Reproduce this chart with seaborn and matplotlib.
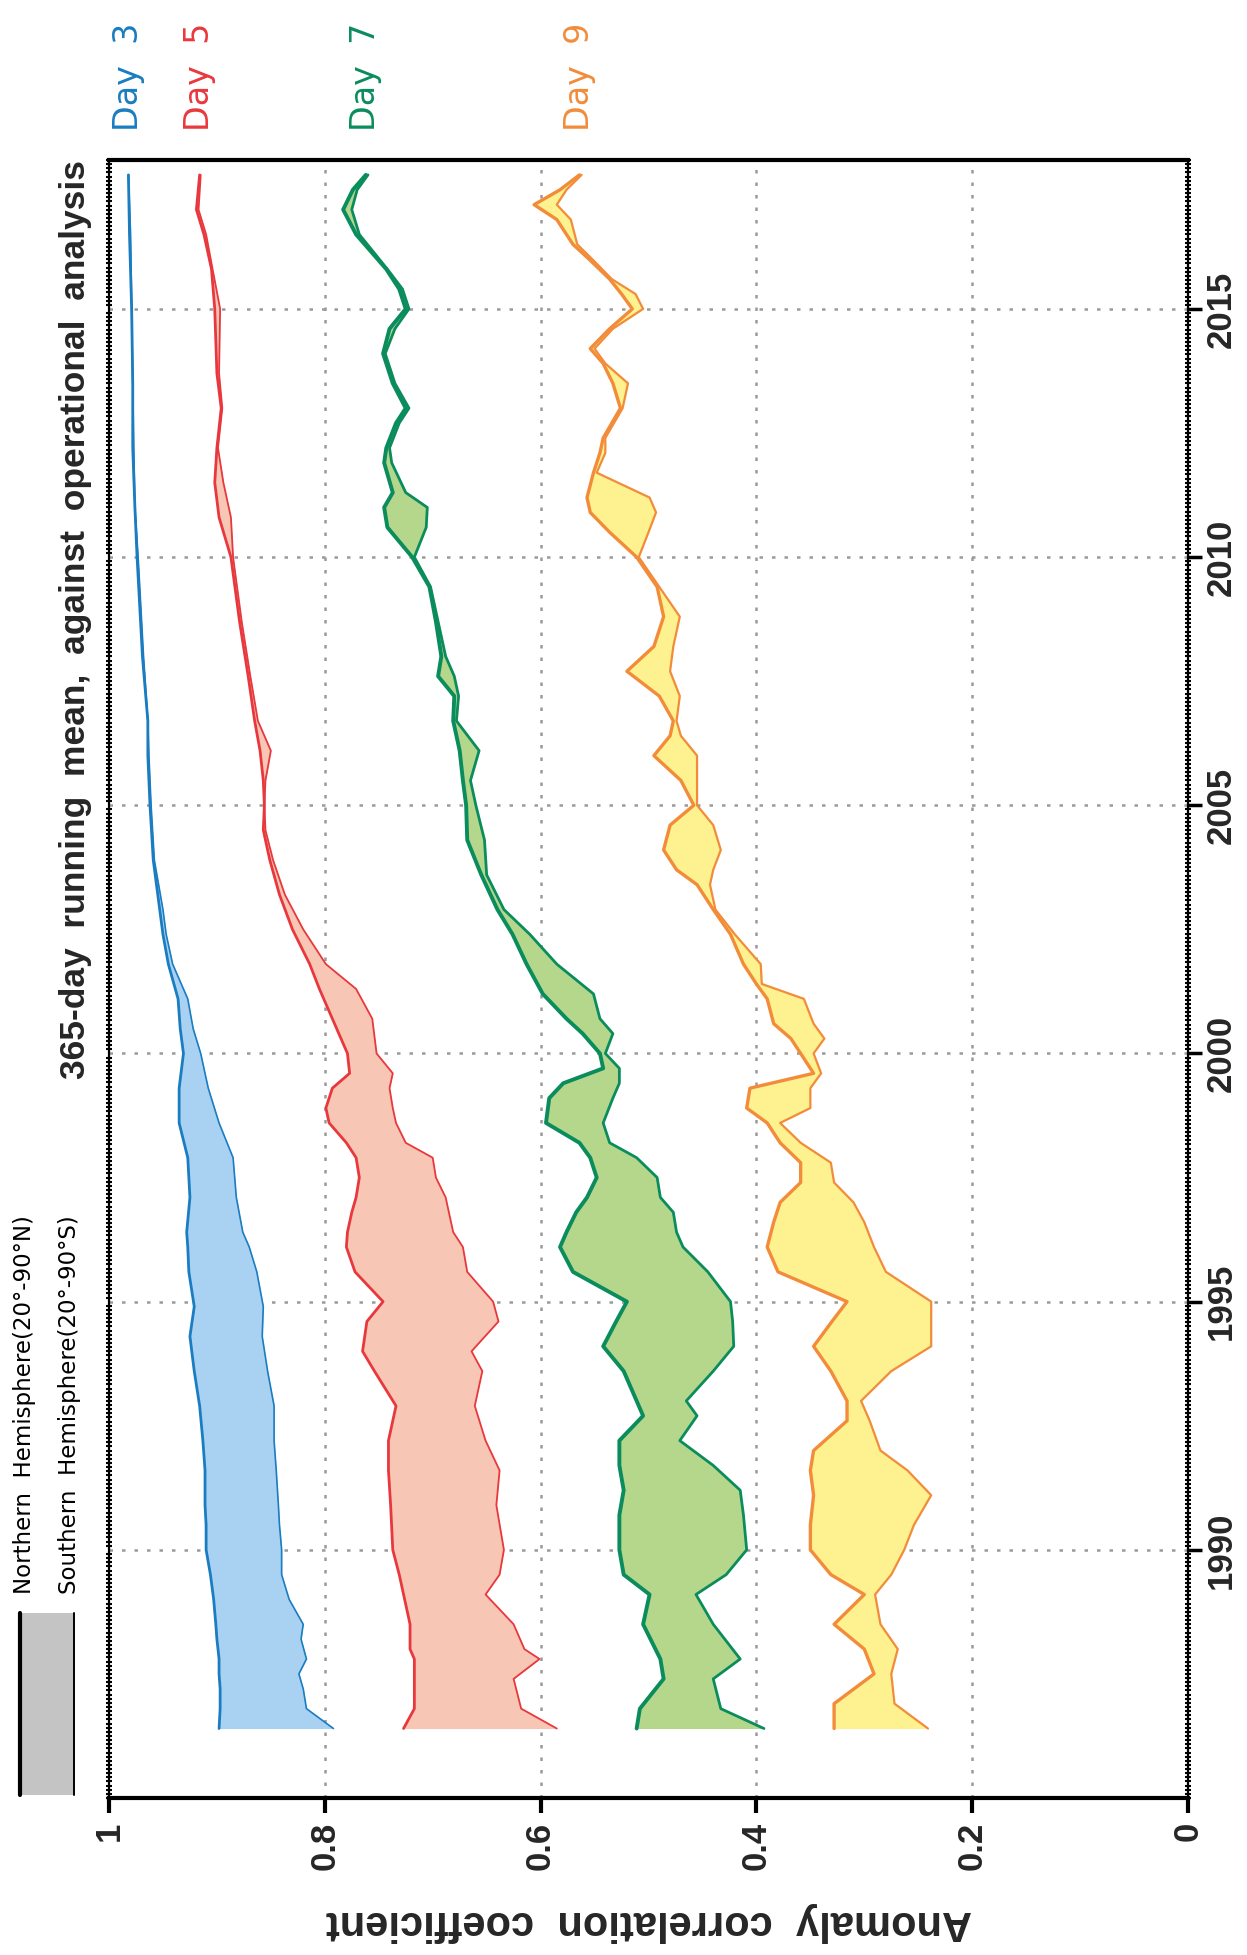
import numpy as np
import pandas as pd
import matplotlib
matplotlib.use("Agg")
import matplotlib.pyplot as plt
import matplotlib.transforms as mtransforms
from matplotlib.lines import Line2D
from matplotlib.patches import Rectangle
import seaborn as sns

# ---------------- data ----------------
D3_YEARS = [1986.4, 1986.8, 1987.2, 1987.5, 1987.8, 1988.2, 1988.5, 1989.0, 1989.5, 1990.0,
            1990.5, 1990.9, 1991.6, 1992.2, 1992.9, 1993.6, 1994.3, 1994.9, 1995.6, 1996.1,
            1996.4, 1997.1, 1997.9, 1998.6, 1999.3, 2000.0, 2000.5, 2001.1, 2001.8, 2002.4,
            2002.9, 2003.9, 2005.0, 2006.0, 2006.7, 2008.0, 2010.0, 2011.0, 2012.2, 2013.5,
            2015.0, 2016.5, 2017.7]
D3_NH = [0.898, 0.897, 0.897, 0.898, 0.898, 0.900, 0.901, 0.903, 0.906, 0.910,
         0.910, 0.911, 0.911, 0.913, 0.916, 0.921, 0.925, 0.921, 0.926, 0.927,
         0.928, 0.925, 0.927, 0.935, 0.935, 0.931, 0.934, 0.936, 0.945, 0.950,
         0.953, 0.959, 0.962, 0.964, 0.964, 0.969, 0.974, 0.976, 0.978, 0.978,
         0.979, 0.981, 0.982]
D3_SH = [0.792, 0.817, 0.820, 0.824, 0.817, 0.822, 0.820, 0.833, 0.840, 0.840,
         0.842, 0.843, 0.845, 0.847, 0.847, 0.853, 0.858, 0.857, 0.863, 0.870,
         0.876, 0.882, 0.885, 0.898, 0.908, 0.915, 0.922, 0.927, 0.941, 0.947,
         0.950, 0.958, 0.961, 0.963, 0.964, 0.968, 0.973, 0.976, 0.977, 0.978,
         0.979, 0.980, 0.982]

D5_YEARS = [1986.4, 1986.8, 1987.4, 1987.8, 1988.0, 1988.5, 1989.1, 1989.5, 1990.0, 1990.9,
            1991.6, 1992.2, 1992.9, 1993.6, 1994.0, 1994.6, 1995.0, 1995.6, 1996.1, 1996.4,
            1996.8, 1997.1, 1997.5, 1997.9, 1998.2, 1998.6, 1998.9, 1999.3, 1999.6, 2000.0,
            2000.7, 2001.3, 2001.8, 2002.5, 2003.2, 2003.9, 2004.5, 2005.0, 2005.5, 2006.1,
            2006.7, 2007.6, 2008.7, 2010.0, 2010.8, 2011.5, 2012.2, 2013.0, 2013.7, 2015.0,
            2015.8, 2016.5, 2017.0, 2017.7]
D5_NH = [0.727, 0.717, 0.717, 0.717, 0.721, 0.721, 0.727, 0.731, 0.737, 0.739,
         0.741, 0.741, 0.734, 0.754, 0.765, 0.761, 0.746, 0.772, 0.780, 0.779,
         0.775, 0.771, 0.768, 0.771, 0.780, 0.796, 0.799, 0.793, 0.777, 0.779,
         0.793, 0.805, 0.814, 0.830, 0.842, 0.851, 0.857, 0.856, 0.857, 0.860,
         0.865, 0.871, 0.879, 0.887, 0.898, 0.902, 0.900, 0.896, 0.900, 0.902,
         0.905, 0.912, 0.919, 0.916]
D5_SH = [0.585, 0.618, 0.625, 0.601, 0.615, 0.625, 0.651, 0.638, 0.634, 0.641,
         0.638, 0.651, 0.661, 0.654, 0.664, 0.639, 0.644, 0.668, 0.672, 0.681,
         0.685, 0.688, 0.697, 0.700, 0.725, 0.734, 0.737, 0.740, 0.737, 0.752,
         0.756, 0.771, 0.799, 0.820, 0.837, 0.848, 0.855, 0.856, 0.855, 0.850,
         0.862, 0.869, 0.877, 0.885, 0.887, 0.894, 0.899, 0.895, 0.898, 0.897,
         0.904, 0.910, 0.917, 0.915]

D7_YEARS = [1986.4, 1986.8, 1987.4, 1987.8, 1988.5, 1989.1, 1989.5, 1990.0, 1990.7, 1991.2,
            1991.7, 1992.2, 1992.7, 1993.0, 1993.6, 1994.1, 1994.6, 1995.0, 1995.6, 1996.1,
            1996.4, 1996.8, 1997.1, 1997.5, 1997.9, 1998.2, 1998.6, 1999.1, 1999.4, 1999.7,
            2000.0, 2000.4, 2000.7, 2001.2, 2001.8, 2002.4, 2002.9, 2003.6, 2004.3, 2005.0,
            2005.5, 2006.1, 2006.7, 2007.2, 2007.6, 2008.0, 2008.7, 2009.4, 2010.0, 2010.6,
            2011.0, 2011.3, 2011.9, 2012.2, 2012.7, 2013.0, 2013.5, 2014.1, 2014.6, 2015.0,
            2015.4, 2015.8, 2016.5, 2017.0, 2017.4, 2017.7]
D7_NH = [0.511, 0.508, 0.486, 0.489, 0.505, 0.499, 0.523, 0.527, 0.527, 0.523,
         0.527, 0.527, 0.505, 0.511, 0.523, 0.542, 0.530, 0.520, 0.570, 0.582,
         0.576, 0.567, 0.557, 0.548, 0.554, 0.564, 0.595, 0.592, 0.579, 0.542,
         0.545, 0.561, 0.576, 0.598, 0.613, 0.626, 0.640, 0.655, 0.668, 0.669,
         0.672, 0.675, 0.681, 0.680, 0.695, 0.692, 0.697, 0.703, 0.719, 0.742,
         0.745, 0.737, 0.745, 0.743, 0.734, 0.725, 0.737, 0.746, 0.740, 0.725,
         0.731, 0.743, 0.771, 0.783, 0.774, 0.762]
D7_SH = [0.393, 0.433, 0.440, 0.415, 0.440, 0.456, 0.428, 0.409, 0.412, 0.415,
         0.440, 0.471, 0.455, 0.465, 0.440, 0.421, 0.422, 0.424, 0.445, 0.468,
         0.474, 0.477, 0.489, 0.492, 0.511, 0.536, 0.542, 0.533, 0.527, 0.527,
         0.540, 0.533, 0.545, 0.551, 0.585, 0.610, 0.634, 0.650, 0.652, 0.660,
         0.665, 0.657, 0.678, 0.676, 0.680, 0.688, 0.695, 0.702, 0.717, 0.706,
         0.705, 0.725, 0.738, 0.740, 0.731, 0.722, 0.735, 0.744, 0.735, 0.722,
         0.728, 0.742, 0.768, 0.775, 0.770, 0.760]

D9_YEARS = [1986.4, 1986.9, 1987.5, 1988.0, 1988.5, 1989.1, 1989.5, 1990.0, 1990.5, 1991.1,
            1991.6, 1992.0, 1992.6, 1993.0, 1993.6, 1994.1, 1994.6, 1995.0, 1995.6, 1996.1,
            1996.6, 1997.0, 1997.4, 1997.8, 1998.2, 1998.6, 1998.9, 1999.3, 1999.6, 2000.0,
            2000.3, 2000.6, 2001.1, 2001.4, 2001.8, 2002.4, 2002.9, 2003.4, 2003.7, 2004.1,
            2004.6, 2005.0, 2005.5, 2006.0, 2006.4, 2006.7, 2007.2, 2007.7, 2008.2, 2008.8,
            2009.4, 2010.0, 2010.5, 2010.9, 2011.2, 2011.7, 2012.1, 2012.4, 2013.0, 2013.5,
            2013.9, 2014.2, 2014.6, 2015.0, 2015.3, 2015.6, 2016.0, 2016.3, 2016.8, 2017.1,
            2017.4, 2017.7]
D9_NH = [0.328, 0.328, 0.291, 0.300, 0.328, 0.300, 0.331, 0.350, 0.350, 0.347,
         0.350, 0.347, 0.316, 0.316, 0.331, 0.347, 0.330, 0.316, 0.380, 0.390,
         0.384, 0.378, 0.359, 0.359, 0.378, 0.390, 0.409, 0.406, 0.347, 0.359,
         0.368, 0.384, 0.390, 0.400, 0.412, 0.424, 0.440, 0.455, 0.474, 0.486,
         0.480, 0.458, 0.470, 0.495, 0.480, 0.477, 0.490, 0.520, 0.495, 0.486,
         0.492, 0.511, 0.536, 0.554, 0.557, 0.551, 0.545, 0.542, 0.526, 0.533,
         0.542, 0.554, 0.536, 0.515, 0.525, 0.536, 0.555, 0.570, 0.585, 0.606,
         0.582, 0.564]
D9_SH = [0.241, 0.272, 0.275, 0.269, 0.285, 0.290, 0.275, 0.263, 0.254, 0.238,
         0.260, 0.285, 0.295, 0.303, 0.275, 0.238, 0.238, 0.238, 0.280, 0.291,
         0.300, 0.310, 0.328, 0.331, 0.359, 0.378, 0.350, 0.350, 0.340, 0.347,
         0.337, 0.347, 0.356, 0.395, 0.396, 0.420, 0.438, 0.443, 0.440, 0.433,
         0.440, 0.455, 0.455, 0.455, 0.470, 0.474, 0.471, 0.480, 0.477, 0.471,
         0.490, 0.509, 0.500, 0.493, 0.499, 0.548, 0.540, 0.540, 0.524, 0.519,
         0.540, 0.550, 0.533, 0.505, 0.512, 0.534, 0.552, 0.566, 0.572, 0.585,
         0.576, 0.562]

DAY_LABELS = ["Day  3", "Day  5", "Day  7", "Day  9"]
ACC_TICKS = [1.0, 0.8, 0.6, 0.4, 0.2, 0.0]
ACC_TICK_LABELS = ["1", "0.8", "0.6", "0.4", "0.2", "0"]
YEAR_TICKS = [1990, 1995, 2000, 2005, 2010, 2015]
TITLE = "365-day  running  mean,  against  operational  analysis"
XLABEL = "Anomaly  correlation  coefficient"
LEGEND_LABELS = ["Northern  Hemisphere(20\u00b0-90\u00b0N)", "Southern  Hemisphere(20\u00b0-90\u00b0S)"]

# ---------------- styling ----------------
LINE_COLORS = ["#1a7cc1", "#e8383d", "#0a8c5c", "#f28c3a"]
FILL_COLORS = ["#a9d1f1", "#f8c6b4", "#b5d78c", "#fdf28f"]
NH_LW = [2.0, 2.0, 2.8, 2.4]
SH_LW = [1.2, 1.3, 2.0, 1.6]

sns.set_theme(style="white")
plt.rcParams["font.family"] = ["Liberation Sans", "DejaVu Sans"]

W, H = 1247, 1955
fig = plt.figure(figsize=(W / 100, H / 100), dpi=100)
fig.patch.set_facecolor("white")
L, R, T, B = 109, 1188, 160, 1798
ax = fig.add_axes([L / W, 1 - B / H, (R - L) / W, (B - T) / H])
ax.set_facecolor("white")

series = [
    (D3_YEARS, D3_NH, D3_SH),
    (D5_YEARS, D5_NH, D5_SH),
    (D7_YEARS, D7_NH, D7_SH),
    (D9_YEARS, D9_NH, D9_SH),
]

for i, (yrs, nh, sh) in enumerate(series):
    df = pd.DataFrame({"year": yrs, "nh": nh, "sh": sh})
    ax.fill_betweenx(df["year"], df["nh"], df["sh"], color=FILL_COLORS[i], lw=0, zorder=2)
    sns.lineplot(data=df, x="sh", y="year", orient="y", estimator=None, sort=False,
                 color=LINE_COLORS[i], lw=SH_LW[i], ax=ax, zorder=3)
    sns.lineplot(data=df, x="nh", y="year", orient="y", estimator=None, sort=False,
                 color=LINE_COLORS[i], lw=NH_LW[i], ax=ax, zorder=4)

# axes ranges (ACC runs right-to-left, years bottom-to-top)
ax.set_xlim(1.0, 0.0)
ax.set_ylim(1985.15, 2017.97)

# grid
for v in ACC_TICKS[1:-1]:
    ax.axvline(v, color="#9a9a9a", lw=1.8, ls=(0, (1.4, 3.6)), zorder=1)
for yv in YEAR_TICKS:
    ax.axhline(yv, color="#9a9a9a", lw=1.8, ls=(0, (1.4, 3.6)), zorder=1)

# ticks
tick_font = ["Liberation Sans Narrow", "Liberation Sans", "DejaVu Sans"]
ax.set_xticks(ACC_TICKS)
ax.set_xticklabels(ACC_TICK_LABELS)
ax.set_yticks(YEAR_TICKS)
ax.set_yticklabels([str(y) for y in YEAR_TICKS])
ax.set_yticks(np.arange(1985, 2018.01, 1 / 12), minor=True)
ax.yaxis.tick_right()
ax.tick_params(axis="x", which="major", bottom=True, top=False, direction="out",
               length=11, width=3, color="black", pad=6)
ax.tick_params(axis="y", which="major", right=True, left=False, direction="out",
               length=10, width=2.5, color="black", pad=2)
ax.tick_params(axis="y", which="minor", right=True, left=True, direction="inout",
               length=5, width=1.5, color="black")
for lab in ax.get_xticklabels():
    lab.set_rotation(90)
    lab.set_va("top")
    lab.set_ha("center")
    lab.set_fontfamily(tick_font)
    lab.set_fontweight("bold")
    lab.set_fontsize(25)
for lab in ax.get_yticklabels():
    lab.set_rotation(90)
    lab.set_va("center")
    lab.set_ha("left")
    lab.set_fontfamily(tick_font)
    lab.set_fontweight("bold")
    lab.set_fontsize(25)

for side in ["left", "right"]:
    ax.spines[side].set_linewidth(1.6)
    ax.spines[side].set_color("black")
for side in ["top", "bottom"]:
    ax.spines[side].set_linewidth(3.0)
    ax.spines[side].set_color("black")

# axis label (upside down, as in the reference)
ax.set_ylabel("")
ax.set_xlabel(XLABEL, rotation=180, fontsize=30, fontweight="bold",
              fontfamily=["Liberation Sans", "DejaVu Sans"])
ax.xaxis.set_label_coords(0.5, (B - 1922) / (B - T))
ax.xaxis.label.set_va("center")

# title (reads bottom to top, left of the frame)
ax.text((76 - L) / (R - L), 1.0, TITLE, transform=ax.transAxes, rotation=90,
        ha="center", va="top", fontsize=25.5, fontweight="bold")

# day labels above each curve end
trans = mtransforms.blended_transform_factory(ax.transData, ax.transAxes)
for i, (yrs, nh, sh) in enumerate(series):
    ax.text(nh[-1], 1.0 + (T - 131) / (B - T), DAY_LABELS[i], transform=trans,
            rotation=90, ha="center", va="bottom", color=LINE_COLORS[i],
            fontsize=24, fontfamily=["DejaVu Sans"])

# legend (drawn in figure pixels)
def fx(px):
    return px / W

def fy(py):
    return 1 - py / H

fig.add_artist(Rectangle((fx(22), fy(1795)), fx(73) - fx(22), fy(1613) - fy(1795),
                         transform=fig.transFigure, facecolor="#c4c4c4", edgecolor="none"))
fig.add_artist(Line2D([fx(19.5), fx(19.5)], [fy(1613), fy(1795)], transform=fig.transFigure,
                      color="black", lw=3.0))
fig.add_artist(Line2D([fx(73.5), fx(73.5)], [fy(1613), fy(1795)], transform=fig.transFigure,
                      color="black", lw=1.4))
fig.text(fx(25), fy(1594), LEGEND_LABELS[0], rotation=90, ha="center", va="bottom",
         fontsize=16.5, fontfamily=["DejaVu Sans"], color="black")
fig.text(fx(70), fy(1594), LEGEND_LABELS[1], rotation=90, ha="center", va="bottom",
         fontsize=16.5, fontfamily=["DejaVu Sans"], color="black")

fig.savefig("out.png", dpi=100, facecolor="white")
